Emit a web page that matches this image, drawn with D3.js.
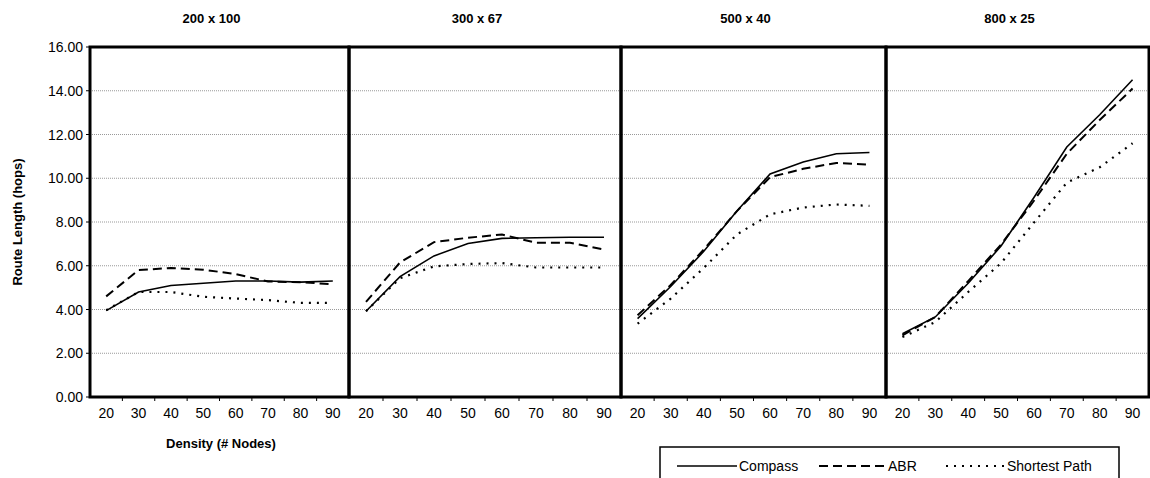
<!DOCTYPE html>
<html>
<head>
<meta charset="utf-8">
<script src="https://cdn.jsdelivr.net/npm/d3@7"></script>
<style>
  body { margin: 0; background: #fff; }
  text { font-family: Arial, "Liberation Sans", sans-serif; fill: #000; }
</style>
</head>
<body>
<svg id="chart" width="1150" height="478"></svg>
<script>
var panels = ["200 x 100", "300 x 67", "500 x 40", "800 x 25"]
var densities = [20, 30, 40, 50, 60, 70, 80, 90]
var yTicks = [0, 2, 4, 6, 8, 10, 12, 14, 16]

// one array per panel, values in hops
var compass = [
  [3.95, 4.8, 5.1, 5.2, 5.3, 5.3, 5.25, 5.3],
  [3.92, 5.5, 6.45, 7.02, 7.25, 7.28, 7.3, 7.3],
  [3.58, 5.05, 6.66, 8.5, 10.2, 10.74, 11.12, 11.18],
  [2.89, 3.66, 5.2, 6.9, 9.12, 11.43, 12.9, 14.5]
]
var abr = [
  [4.6, 5.8, 5.9, 5.82, 5.62, 5.28, 5.25, 5.15],
  [4.35, 6.15, 7.08, 7.28, 7.43, 7.05, 7.05, 6.74],
  [3.74, 5.12, 6.74, 8.5, 10.05, 10.43, 10.7, 10.62],
  [2.82, 3.66, 5.3, 6.97, 8.97, 11.12, 12.66, 14.1]
]
var shortest = [
  [3.97, 4.8, 4.8, 4.58, 4.5, 4.43, 4.3, 4.3],
  [3.92, 5.43, 5.97, 6.08, 6.12, 5.92, 5.92, 5.92],
  [3.35, 4.5, 5.9, 7.43, 8.35, 8.66, 8.8, 8.74],
  [2.74, 3.43, 4.8, 6.12, 7.97, 9.8, 10.5, 11.6]
]
var seriesNames = ["Compass", "ABR", "Shortest Path"]

var svg = d3.select("#chart")

var edges = [90, 349, 621, 886, 1149]   // panel borders
var plotTop = 47, plotBottom = 397

var y = d3.scaleLinear().domain([0, 16]).range([plotBottom, plotTop])

var styles = {
  "Compass": {dash: null, width: 1.6},
  "ABR": {dash: "9,5", width: 2},
  "Shortest Path": {dash: "2,6", width: 2.2}
}

// grid lines across the whole plot
svg.selectAll(".grid")
    .data(yTicks.filter(function(d){ return d > 0 && d < 16 }))
    .enter()
    .append("line")
        .attr("x1", edges[0])
        .attr("x2", edges[4])
        .attr("y1", function(d){ return y(d) })
        .attr("y2", function(d){ return y(d) })
        .attr("stroke", "#999")
        .attr("stroke-width", 1)
        .attr("stroke-dasharray", "1,1")

// y tick marks and labels
svg.selectAll(".ytick")
    .data(yTicks).enter()
    .append("line")
        .attr("x1", edges[0] - 4)
        .attr("x2", edges[0])
        .attr("y1", function(d){ return y(d) })
        .attr("y2", function(d){ return y(d) })
        .attr("stroke", "#000")

svg.selectAll(".ylab")
    .data(yTicks).enter()
    .append("text")
        .attr("x", edges[0] - 7)
        .attr("y", function(d){ return y(d) + 5 })
        .attr("text-anchor", "end")
        .style("font-size", "14px")
        .text(function(d){ return d3.format(".2f")(d) })

svg.append("text")
    .attr("transform", "translate(22," + ((plotTop + plotBottom) / 2) + ") rotate(-90)")
    .attr("text-anchor", "middle")
    .style("font-size", "13px")
    .style("font-weight", "bold")
    .text("Route Length (hops)")

var line = d3.line()

panels.forEach(function(name, p) {
    var x0 = edges[p], x1 = edges[p + 1]
    var x = d3.scalePoint().domain(densities).range([x0, x1]).padding(0.5)
    var band = d3.scaleBand().domain(densities).range([x0, x1])

    // small ticks between categories
    svg.selectAll(".xtick" + p)
        .data(densities.slice(1)).enter()
        .append("line")
            .attr("x1", function(d){ return band(d) })
            .attr("x2", function(d){ return band(d) })
            .attr("y1", plotBottom)
            .attr("y2", plotBottom + 4)
            .attr("stroke", "#000")

    svg.selectAll(".xlab" + p)
        .data(densities).enter()
        .append("text")
            .attr("x", function(d){ return x(d) })
            .attr("y", 418)
            .attr("text-anchor", "middle")
            .style("font-size", "14px")
            .text(function(d){ return d })

    svg.append("text")
        .attr("x", (x0 + x1) / 2 - 8)
        .attr("y", 23)
        .attr("text-anchor", "middle")
        .style("font-size", "13px")
        .style("font-weight", "bold")
        .text(name)

    var sets = [compass[p], abr[p], shortest[p]]
    sets.forEach(function(vals, s) {
        var st = styles[seriesNames[s]]
        svg.append("path")
            .attr("d", line(vals.map(function(v, i){ return [x(densities[i]), y(v)] })))
            .attr("fill", "none")
            .attr("stroke", "#000")
            .attr("stroke-width", st.width)
            .attr("stroke-dasharray", st.dash)
    })

    // heavy panel frame
    svg.append("rect")
        .attr("x", x0)
        .attr("y", plotTop)
        .attr("width", x1 - x0)
        .attr("height", plotBottom - plotTop)
        .attr("fill", "none")
        .attr("stroke", "#000")
        .attr("stroke-width", 3)
})

svg.append("text")
    .attr("x", 221)
    .attr("y", 448)
    .attr("text-anchor", "middle")
    .style("font-size", "13px")
    .style("font-weight", "bold")
    .text("Density (# Nodes)")

// legend
var legend = svg.append("g")
legend.append("rect")
    .attr("x", 660)
    .attr("y", 447)
    .attr("width", 459)
    .attr("height", 50)
    .attr("fill", "#fff")
    .attr("stroke", "#000")
    .attr("stroke-width", 1.5)

var legendX = [677, 819, 946]
var legendLen = [60, 67, 59]
seriesNames.forEach(function(n, i) {
    var st = styles[n]
    legend.append("line")
        .attr("x1", legendX[i])
        .attr("x2", legendX[i] + legendLen[i])
        .attr("y1", 466)
        .attr("y2", 466)
        .attr("stroke", "#000")
        .attr("stroke-width", n == "Compass" ? 1.3 : 1.8)
        .attr("stroke-dasharray", st.dash)
    legend.append("text")
        .attr("x", legendX[i] + legendLen[i] + 2)
        .attr("y", 471)
        .style("font-size", "14px")
        .text(n)
})
</script>
</body>
</html>
